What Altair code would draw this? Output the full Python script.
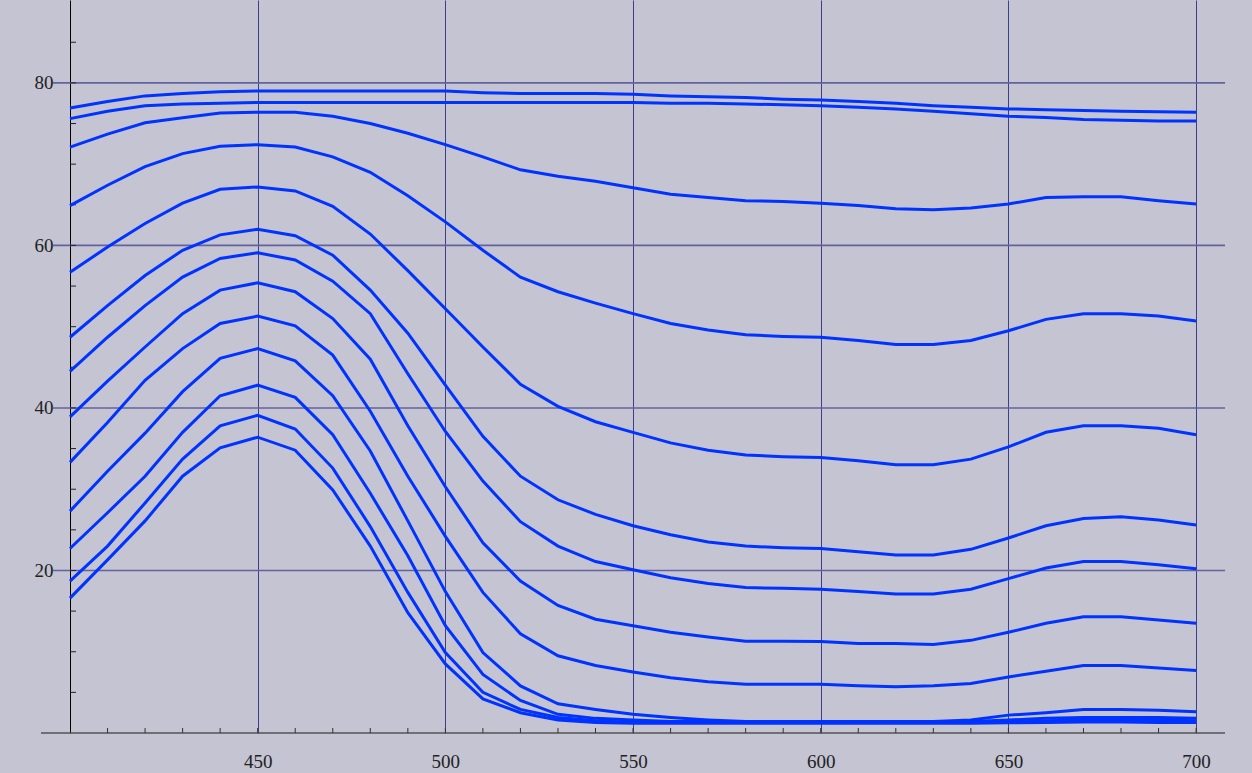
import altair as alt
import pandas as pd

wavelengths = list(range(400, 701, 10))

c1 = [76.9, 77.7, 78.4, 78.7, 78.9, 79.0, 79.0, 79.0, 79.0, 79.0, 79.0, 78.8, 78.7, 78.7, 78.7, 78.6,
      78.4, 78.3, 78.2, 78.0, 77.9, 77.7, 77.5, 77.2, 77.0, 76.8, 76.7, 76.6, 76.5, 76.45, 76.4]
c2 = [75.6, 76.5, 77.2, 77.4, 77.5, 77.6, 77.6, 77.6, 77.6, 77.6, 77.6, 77.6, 77.6, 77.6, 77.6, 77.6,
      77.5, 77.5, 77.4, 77.3, 77.2, 77.0, 76.8, 76.5, 76.2, 75.9, 75.75, 75.5, 75.4, 75.3, 75.3]
c3 = [72.1, 73.7, 75.1, 75.7, 76.3, 76.4, 76.4, 75.9, 75.0, 73.8, 72.4, 70.9, 69.3, 68.5, 67.9, 67.1,
      66.3, 65.9, 65.5, 65.4, 65.2, 64.9, 64.5, 64.4, 64.6, 65.1, 65.9, 66.0, 66.0, 65.5, 65.1]
c4 = [64.9, 67.4, 69.7, 71.3, 72.2, 72.4, 72.1, 70.9, 69.0, 66.1, 62.9, 59.4, 56.1, 54.3, 52.9, 51.6,
      50.4, 49.6, 49.0, 48.8, 48.7, 48.3, 47.8, 47.8, 48.3, 49.5, 50.9, 51.6, 51.6, 51.3, 50.7]
c5 = [56.7, 59.8, 62.7, 65.2, 66.9, 67.2, 66.7, 64.8, 61.4, 56.9, 52.2, 47.5, 42.9, 40.2, 38.3, 37.0,
      35.7, 34.8, 34.2, 34.0, 33.9, 33.5, 33.0, 33.0, 33.7, 35.2, 37.0, 37.8, 37.8, 37.5, 36.7]
c6 = [48.7, 52.6, 56.3, 59.4, 61.3, 62.0, 61.2, 58.8, 54.5, 49.2, 42.8, 36.5, 31.6, 28.7, 26.9, 25.5,
      24.4, 23.5, 23.0, 22.8, 22.7, 22.3, 21.9, 21.9, 22.6, 24.0, 25.5, 26.4, 26.6, 26.2, 25.6]
c7 = [44.5, 48.7, 52.6, 56.1, 58.4, 59.1, 58.2, 55.6, 51.6, 44.2, 37.1, 31.0, 26.0, 23.0, 21.1, 20.1,
      19.1, 18.4, 17.9, 17.8, 17.7, 17.4, 17.1, 17.1, 17.7, 19.0, 20.3, 21.1, 21.1, 20.7, 20.2]
c8 = [38.9, 43.3, 47.5, 51.6, 54.5, 55.4, 54.3, 51.0, 46.0, 37.8, 30.3, 23.4, 18.7, 15.7, 14.0, 13.2,
      12.4, 11.8, 11.3, 11.3, 11.25, 11.0, 11.0, 10.9, 11.4, 12.4, 13.5, 14.3, 14.3, 13.9, 13.5]
c9 = [33.3, 38.2, 43.4, 47.3, 50.4, 51.3, 50.1, 46.5, 39.6, 31.6, 24.2, 17.3, 12.2, 9.5, 8.3, 7.5,
      6.8, 6.3, 6.0, 6.0, 6.0, 5.8, 5.7, 5.8, 6.1, 6.9, 7.6, 8.3, 8.3, 8.0, 7.7]
c10 = [27.3, 32.2, 36.9, 42.0, 46.1, 47.3, 45.8, 41.5, 34.7, 26.1, 17.4, 9.9, 5.8, 3.6, 2.9, 2.3,
       1.9, 1.6, 1.4, 1.4, 1.4, 1.4, 1.4, 1.4, 1.6, 2.2, 2.5, 2.9, 2.9, 2.8, 2.6]
c11 = [22.7, 27.1, 31.6, 37.0, 41.5, 42.8, 41.3, 36.7, 29.5, 21.8, 13.2, 7.2, 4.0, 2.3, 1.8, 1.6,
       1.4, 1.4, 1.35, 1.35, 1.35, 1.35, 1.35, 1.35, 1.4, 1.6, 1.8, 1.9, 1.9, 1.9, 1.8]
c12 = [18.7, 23.0, 28.3, 33.7, 37.8, 39.1, 37.4, 32.6, 25.4, 17.3, 9.9, 5.0, 2.9, 1.9, 1.5, 1.3,
       1.3, 1.3, 1.3, 1.3, 1.3, 1.3, 1.3, 1.3, 1.3, 1.4, 1.5, 1.6, 1.6, 1.6, 1.5]
c13 = [16.6, 21.3, 26.1, 31.6, 35.1, 36.4, 34.8, 29.9, 23.0, 14.8, 8.5, 4.2, 2.5, 1.6, 1.3, 1.2,
       1.2, 1.2, 1.2, 1.2, 1.2, 1.2, 1.2, 1.2, 1.2, 1.25, 1.3, 1.35, 1.35, 1.3, 1.3]

series = [c1, c2, c3, c4, c5, c6, c7, c8, c9, c10, c11, c12, c13]

x_labels = [450, 500, 550, 600, 650, 700]
y_labels = [20, 40, 60, 80]
x_minor = list(range(410, 701, 10))
y_minor = list(range(5, 90, 5))

rows = []
for i, s in enumerate(series):
    for w, v in zip(wavelengths, s):
        rows.append({"wl": w, "val": v, "curve": i})
df = pd.DataFrame(rows)

W, H = 1155, 733
BG = "#c4c4d2"
xs = alt.Scale(domain=[400, 707.7], nice=False, zero=False)
ys = alt.Scale(domain=[0, 90.2], nice=False, zero=False)

hgrid = alt.Chart(pd.DataFrame({"v": y_labels})).mark_rule(
    color="#62629e", strokeWidth=1.6
).encode(y=alt.Y("v:Q", scale=ys), x=alt.value(-17), x2=alt.value(W))

baseline = alt.Chart(pd.DataFrame({"v": [0]})).mark_rule(
    color="#555555", strokeWidth=1.6
).encode(y=alt.Y("v:Q", scale=ys), x=alt.value(-29), x2=alt.value(W))

xticks = alt.Chart(pd.DataFrame({"v": x_minor})).mark_rule(
    color="#333333", strokeWidth=1
).encode(x=alt.X("v:Q", scale=xs), y=alt.value(H), y2=alt.value(H - 5))

yticks = alt.Chart(pd.DataFrame({"v": y_minor})).mark_rule(
    color="#222222", strokeWidth=1
).encode(y=alt.Y("v:Q", scale=ys), x=alt.value(0), x2=alt.value(6))

lines = alt.Chart(df).mark_line(color="#0033ff", strokeWidth=3).encode(
    x=alt.X("wl:Q", scale=xs, axis=alt.Axis(
        values=x_labels, title=None, grid=True, gridColor="#3e3e8e", gridWidth=1,
        domain=False, ticks=False, labelPadding=19, labelFont="Liberation Serif",
        labelFontSize=19, labelColor="#222222")),
    y=alt.Y("val:Q", scale=ys, axis=alt.Axis(
        values=y_labels, title=None, grid=False, domain=True, domainColor="#000000",
        domainWidth=1, ticks=False, labelPadding=17, labelFont="Liberation Serif",
        labelFontSize=19, labelColor="#222222")),
    detail="curve:N",
)

chart = alt.layer(hgrid, baseline, xticks, yticks, lines).properties(
    width=W, height=H,
    autosize=alt.AutoSizeParams(type="none"),
    padding={"left": 70, "top": 0, "right": 27, "bottom": 40},
    background=BG,
).configure_view(fill=BG, strokeWidth=0)

chart.save("out.html", embed_options={"renderer": "svg", "actions": False})
